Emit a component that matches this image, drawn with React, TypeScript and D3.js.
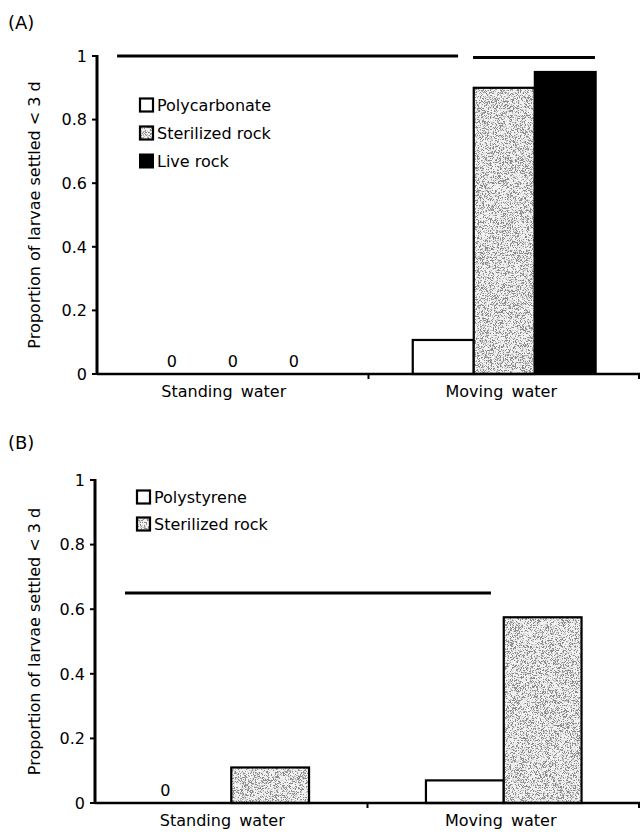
import React from 'react'
import * as d3 from 'd3'

// ── Data ───────────────────────────────────────────────────────────────────
const categories = ['Standing water', 'Moving water']
const yTicks = [0, 0.2, 0.4, 0.6, 0.8, 1]
const yTickLabels = ['0', '0.2', '0.4', '0.6', '0.8', '1']

const seriesA = ['Polycarbonate', 'Sterilized rock', 'Live rock']
const polycarbonateA = [0, 0.107]
const sterilizedA = [0, 0.9]
const liveRockA = [0, 0.95]
// significance bars, x in category units (0..2), y in proportion
const sigA = [
  { x0: 0.074, x1: 1.33, y: 1.0 },
  { x0: 1.385, x1: 1.834, y: 0.995 },
]

const seriesB = ['Polystyrene', 'Sterilized rock']
const polystyreneB = [0, 0.07]
const sterilizedB = [0.11, 0.575]
const sigB = [{ x0: 0.11, x1: 1.453, y: 0.65 }]

const FONT = '"DejaVu Sans", Verdana, sans-serif'
const FILLS: Record<string, string> = {
  Polycarbonate: 'open',
  Polystyrene: 'open',
  'Sterilized rock': 'stipple',
  'Live rock': 'solid',
}
const LABEL_NUDGE = [-9, -3]

type PanelProps = {
  tag: string
  top: number
  axisLeft: number
  yOne: number
  yZero: number
  series: string[]
  values: number[][]
  groupFrac: number
  zeroShift: number
  sig: { x0: number; x1: number; y: number }[]
  legendX: number
  legendY: number
  legendGap: number
}

function Bar({ x, y, w, h, kind }: { x: number; y: number; w: number; h: number; kind: string }) {
  if (kind === 'solid') return <rect x={x} y={y} width={w} height={h} fill="#000" stroke="#000" strokeWidth={2} />
  if (kind === 'stipple')
    return (
      <g>
        <rect x={x} y={y} width={w} height={h} fill="#fff" filter="url(#stipple)" />
        <rect x={x} y={y} width={w} height={h} fill="none" stroke="#000" strokeWidth={2.2} />
      </g>
    )
  return <rect x={x} y={y} width={w} height={h} fill="#fff" stroke="#000" strokeWidth={2.2} />
}

function Panel(p: PanelProps) {
  const right = 640
  const x = d3.scaleBand<string>().domain(categories).range([p.axisLeft, right]).paddingInner(0).paddingOuter(0)
  const xc = d3.scaleLinear().domain([0, 2]).range([p.axisLeft, right])
  const y = d3.scaleLinear().domain([0, 1]).range([p.yZero, p.yOne])
  const groupW = x.bandwidth() * p.groupFrac
  const inner = d3.scaleBand<string>().domain(p.series).range([-groupW / 2, groupW / 2])

  return (
    <g>
      <text x={8} y={p.top} fontFamily={FONT} fontSize={18}>{p.tag}</text>

      {/* y axis title */}
      <text
        transform={`translate(34,${(p.yOne + p.yZero) / 2}) rotate(-90)`}
        textAnchor="middle"
        dominantBaseline="central"
        fontFamily={FONT}
        fontSize={16}
      >
        Proportion of larvae settled &lt; 3 d
      </text>

      {/* bars */}
      {categories.map((c, ci) =>
        p.series.map((s, si) => {
          const v = p.values[si][ci]
          const bx = x(c)! + x.bandwidth() / 2 + inner(s)!
          if (v === 0)
            return (
              <text
                key={c + s}
                x={bx + inner.bandwidth() / 2 + p.zeroShift}
                y={p.yZero - 7}
                textAnchor="middle"
                fontFamily={FONT}
                fontSize={16}
              >
                0
              </text>
            )
          return <Bar key={c + s} x={bx} y={y(v)} w={inner.bandwidth()} h={y(0) - y(v)} kind={FILLS[s]} />
        })
      )}

      {/* significance lines */}
      {p.sig.map((l, i) => (
        <line key={i} x1={xc(l.x0)} x2={xc(l.x1)} y1={y(l.y)} y2={y(l.y)} stroke="#000" strokeWidth={3} />
      ))}

      {/* y axis */}
      <line x1={p.axisLeft} x2={p.axisLeft} y1={y(1) - 1} y2={y(0) + 1} stroke="#000" strokeWidth={3} />
      {yTicks.map((t, i) => (
        <g key={t}>
          <line x1={p.axisLeft - 5} x2={p.axisLeft} y1={y(t)} y2={y(t)} stroke="#000" strokeWidth={2} />
          <text x={p.axisLeft - 10} y={y(t)} dy="0.36em" textAnchor="end" fontFamily={FONT} fontSize={16}>
            {yTickLabels[i]}
          </text>
        </g>
      ))}

      {/* x axis */}
      <line x1={p.axisLeft} x2={right} y1={y(0)} y2={y(0)} stroke="#000" strokeWidth={2.5} />
      {[x(categories[1])!, right - 1].map((tx, i) => (
        <line key={i} x1={tx} x2={tx} y1={y(0)} y2={y(0) + 5} stroke="#000" strokeWidth={2} />
      ))}
      {categories.map((c, ci) => (
        <text
          key={c}
          x={x(c)! + x.bandwidth() / 2 + LABEL_NUDGE[ci]}
          y={y(0) + 23}
          textAnchor="middle"
          fontFamily={FONT}
          fontSize={16}
          wordSpacing={3}
        >
          {c}
        </text>
      ))}

      {/* legend */}
      {p.series.map((s, i) => {
        const ly = p.legendY + i * p.legendGap
        return (
          <g key={s}>
            <Bar x={p.legendX} y={ly - 6.5} w={13} h={13} kind={FILLS[s]} />
            <text x={p.legendX + 17} y={ly} dy="0.36em" fontFamily={FONT} fontSize={16}>
              {s}
            </text>
          </g>
        )
      })}
    </g>
  )
}

export default function App() {
  return (
    <svg
      width={641}
      height={832}
      style={{ position: 'absolute', left: 0, top: 0, background: '#fff' }}
    >
      <defs>
        <filter id="stipple" x="0" y="0" width="100%" height="100%">
          <feTurbulence type="fractalNoise" baseFrequency="2.6" numOctaves={1} seed={7} result="noise" />
          <feColorMatrix
            in="noise"
            type="matrix"
            values="0 0 0 0 0.25  0 0 0 0 0.25  0 0 0 0 0.25  -9 0 0 0 4.6"
            result="dots"
          />
          <feFlood floodColor="#f2f2f2" result="bg" />
          <feComposite in="dots" in2="bg" operator="over" result="tex" />
          <feComposite in="tex" in2="SourceGraphic" operator="in" />
        </filter>
      </defs>
      <Panel
        tag="(A)"
        top={29}
        axisLeft={97}
        yOne={56}
        yZero={374}
        series={seriesA}
        values={[polycarbonateA, sterilizedA, liveRockA]}
        groupFrac={0.674}
        zeroShift={0}
        sig={sigA}
        legendX={140}
        legendY={105}
        legendGap={28}
      />
      <Panel
        tag="(B)"
        top={449}
        axisLeft={95}
        yOne={480}
        yZero={803}
        series={seriesB}
        values={[polystyreneB, sterilizedB]}
        groupFrac={0.571}
        zeroShift={-27}
        sig={sigB}
        legendX={137}
        legendY={497}
        legendGap={27}
      />
    </svg>
  )
}
